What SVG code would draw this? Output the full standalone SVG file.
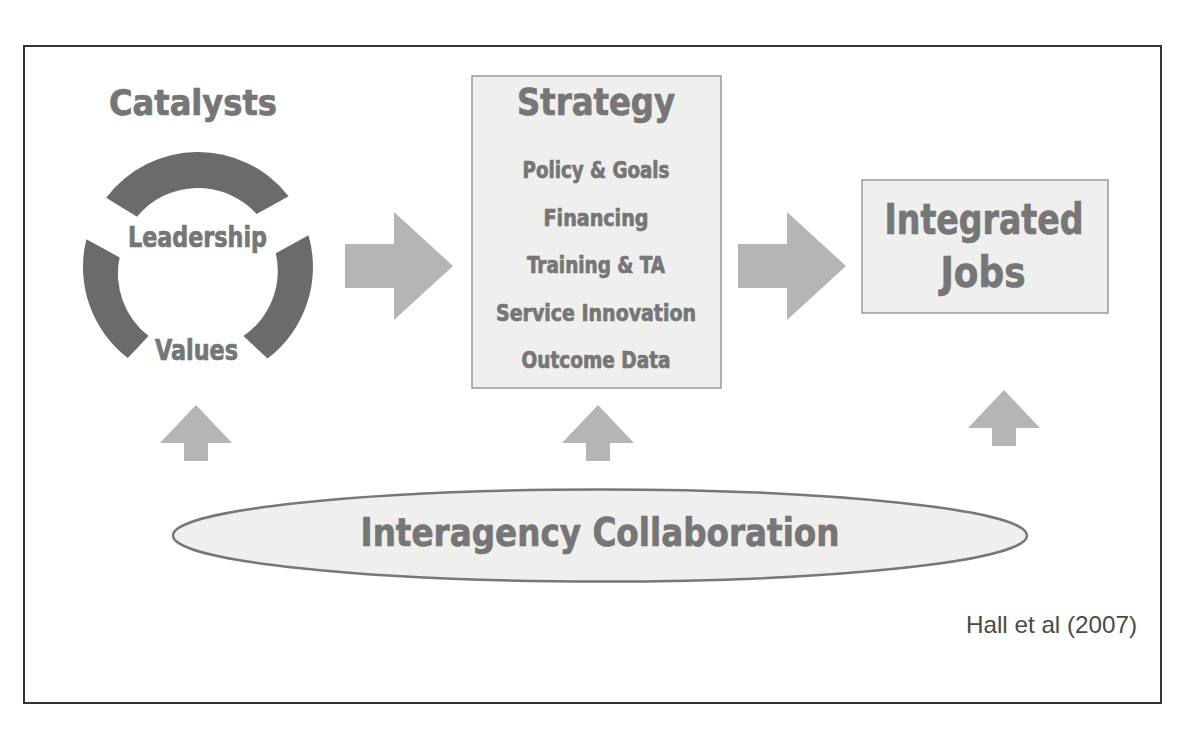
<svg xmlns="http://www.w3.org/2000/svg" xmlns:xlink="http://www.w3.org/1999/xlink" width="1200" height="750" viewBox="0 0 1200 750">
<style>
.lbl{font-family:"Liberation Sans Narrow","DejaVu Sans Condensed","Liberation Sans",sans-serif;font-weight:bold;fill:#767676;stroke:#767676;stroke-width:0.7;text-anchor:middle}
.box{fill:#efefed;stroke:#9a9a9a;stroke-width:1.5}
.ring{fill:#6b6b6b}
.arr{fill:#b5b5b5}
.cite{font-family:"Liberation Sans",Arial,sans-serif;font-size:24px;fill:#4a4a4a}
</style>
<defs>
<path id="rarrow" d="M0,0 L-59,-54 L-59,-22 L-108,-22 L-108,22 L-59,22 L-59,54 Z"/>
<path id="uarrow" d="M0,0 L36,38 L12,38 L12,56 L-12,56 L-12,38 L-36,38 Z"/>
</defs>
<rect x="0" y="0" width="1200" height="750" fill="#ffffff"/>
<rect id="frame" x="24" y="46" width="1137" height="657" fill="#ffffff" stroke="#333333" stroke-width="2"/>

<g id="catalysts">
<text class="lbl" x="193" y="115" font-size="36" textLength="168" lengthAdjust="spacingAndGlyphs">Catalysts</text>
<path class="ring" d="M106.2,197.8 A115,115 0 0 1 288.6,196.2 L256.7,214.1 A79,79 0 0 0 137.0,216.7 Z"/>
<path class="ring" d="M308.5,235.3 A115,115 0 0 1 267.5,358.6 L243.5,336.0 A79,79 0 0 0 275.8,253.3 Z"/>
<path class="ring" d="M127.8,358.1 A115,115 0 0 1 86.4,239.2 L119.6,257.4 A79,79 0 0 0 148.5,336.0 Z"/>
<text class="lbl" x="197.5" y="247" font-size="28" textLength="139" lengthAdjust="spacingAndGlyphs">Leadership</text>
<text class="lbl" x="196.5" y="360" font-size="28" textLength="83" lengthAdjust="spacingAndGlyphs">Values</text>
</g>

<g id="strategy">
<rect class="box" x="472" y="76" width="249" height="312"/>
<text class="lbl" x="596" y="115" font-size="37" textLength="158" lengthAdjust="spacingAndGlyphs">Strategy</text>
<text class="lbl" x="596" y="178" font-size="23" textLength="147" lengthAdjust="spacingAndGlyphs">Policy &amp; Goals</text>
<text class="lbl" x="596" y="226" font-size="23" textLength="105" lengthAdjust="spacingAndGlyphs">Financing</text>
<text class="lbl" x="596" y="273" font-size="23" textLength="138" lengthAdjust="spacingAndGlyphs">Training &amp; TA</text>
<text class="lbl" x="596" y="321" font-size="23" textLength="200" lengthAdjust="spacingAndGlyphs">Service Innovation</text>
<text class="lbl" x="596" y="368" font-size="23" textLength="149" lengthAdjust="spacingAndGlyphs">Outcome Data</text>
</g>

<g id="integrated-jobs">
<rect class="box" x="862" y="180" width="246" height="133"/>
<text class="lbl" x="984" y="234" font-size="42" textLength="199" lengthAdjust="spacingAndGlyphs">Integrated</text>
<text class="lbl" x="983" y="287" font-size="42" textLength="85" lengthAdjust="spacingAndGlyphs">Jobs</text>
</g>

<g id="interagency">
<ellipse cx="600" cy="535.5" rx="427" ry="46" fill="#efefed" stroke="#777777" stroke-width="2.5"/>
<text class="lbl" x="600" y="546" font-size="39" textLength="479" lengthAdjust="spacingAndGlyphs">Interagency Collaboration</text>
</g>

<g id="citation">
<text class="cite" x="966" y="633" textLength="171" lengthAdjust="spacingAndGlyphs">Hall et al (2007)</text>
</g>

<g id="connectors">
<use class="arr" xlink:href="#rarrow" x="453" y="266"/>
<use class="arr" xlink:href="#rarrow" x="846" y="266"/>
<use class="arr" xlink:href="#uarrow" x="196" y="405"/>
<use class="arr" xlink:href="#uarrow" x="598" y="405"/>
<use class="arr" xlink:href="#uarrow" x="1004" y="390"/>
</g>
</svg>
